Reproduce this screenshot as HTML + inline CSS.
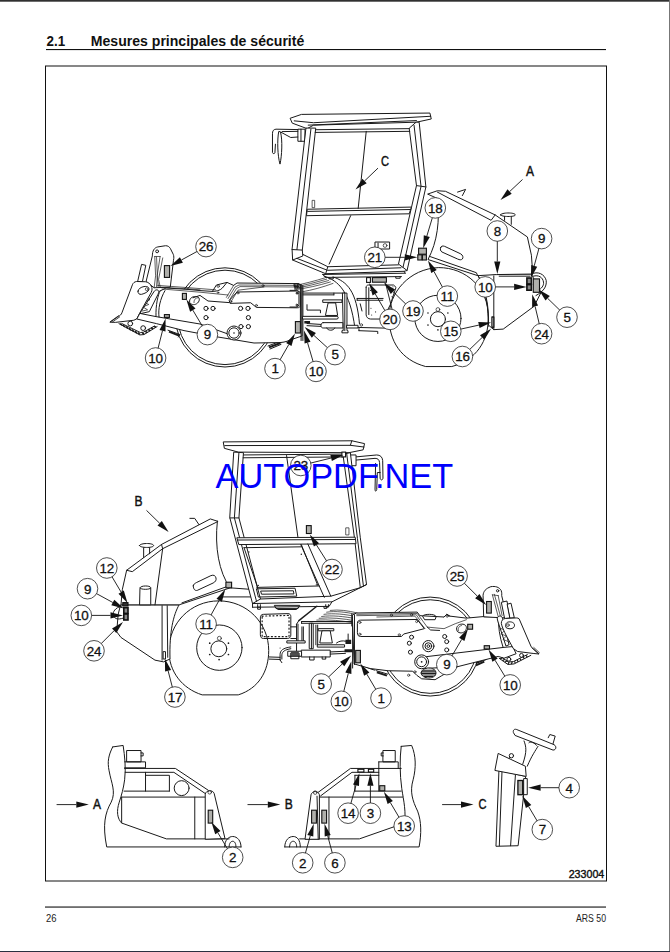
<!DOCTYPE html>
<html lang="fr"><head><meta charset="utf-8"><title>2.1 Mesures principales de sécurité</title>
<style>
html,body{margin:0;padding:0;background:#fff;}
body{width:670px;height:952px;overflow:hidden;position:relative;font-family:"Liberation Sans",sans-serif;}
svg{position:absolute;left:0;top:0;display:block}
#drawing *{vector-effect:non-scaling-stroke}
.d{fill:none;stroke:#1a1a1a;stroke-width:1;stroke-linejoin:round;stroke-linecap:round}
.h{fill:none;stroke:#1a1a1a;stroke-width:1.6;stroke-linecap:butt}
.w{fill:#fff;stroke:#1a1a1a;stroke-width:1;stroke-linejoin:round;stroke-linecap:round}
.t{fill:none;stroke:#1a1a1a;stroke-width:0.7;stroke-linejoin:round;stroke-linecap:round}
.k{fill:#1a1a1a;stroke:none}
.co{fill:#fff;stroke:#222;stroke-width:0.8}
.cn{font-family:"Liberation Sans",sans-serif;font-size:13.4px;text-anchor:middle;fill:#111;stroke:#111;stroke-width:0.3;letter-spacing:-0.2px}
.al{stroke:#111;stroke-width:0.9;fill:none}
.ah{fill:#111;stroke:none}
.st{fill:#b0b0ac;stroke:#111;stroke-width:1.1}
.lb{font-family:"Liberation Sans",sans-serif;font-size:14.5px;font-weight:normal;fill:#111;stroke:#111;stroke-width:0.45;text-anchor:middle}
.wm{font-family:"Liberation Sans",sans-serif;font-size:34.3px;fill:#0000fc}
</style></head><body>
<svg width="670" height="952" viewBox="0 0 670 952">
<rect x="0" y="0" width="670" height="952" fill="#fff"/>
<rect x="0" y="0" width="670" height="1.7" fill="#303030"/>
<rect x="669" y="0" width="1" height="952" fill="#777"/>
<rect x="0" y="951" width="670" height="1" fill="#2a2f40"/>
<text x="46.5" y="46.3" font-family="Liberation Sans, sans-serif" font-weight="bold" font-size="14.8" fill="#111" textLength="18.6" lengthAdjust="spacingAndGlyphs">2.1</text>
<text x="90.8" y="46.3" font-family="Liberation Sans, sans-serif" font-weight="bold" font-size="14.8" fill="#111" textLength="213.5" lengthAdjust="spacingAndGlyphs">Mesures principales de sécurité</text>
<rect x="46" y="49" width="560" height="1.1" fill="#111"/>
<rect x="45.5" y="66" width="561" height="815" fill="none" stroke="#111" stroke-width="1"/>
<rect x="45" y="906.5" width="561" height="1.1" fill="#111"/>
<text x="46" y="921.5" font-family="Liberation Sans, sans-serif" font-size="10.5" fill="#222" textLength="10.5" lengthAdjust="spacingAndGlyphs">26</text>
<text x="606" y="921.5" font-family="Liberation Sans, sans-serif" font-size="10.5" fill="#222" text-anchor="end" textLength="30" lengthAdjust="spacingAndGlyphs">ARS 50</text>
<text x="604.3" y="878" font-family="Liberation Sans, sans-serif" font-size="11" fill="#111" stroke="#111" stroke-width="0.4" text-anchor="end" textLength="35.6" lengthAdjust="spacingAndGlyphs">233004</text>
<g id="drawing">
<!-- 05_top_drum.svg -->
<g transform="translate(170,255) scale(0.2)">
<circle class="w" cx="275" cy="312" r="248"/>
<circle class="d" cx="275" cy="312" r="236"/>
</g>

<!-- 10_top_blade.svg -->
<g transform="translate(104,240) scale(0.1194)">
<!-- upper hook arm -->
<path class="w" d="M405,130 C405,90 420,65 450,58 L515,48 C535,48 545,55 555,70 L580,120 C586,135 586,150 582,170 L555,395 L420,400 L355,350 Z"/>
<circle class="d" cx="445" cy="95" r="12"/>
<path class="t" d="M425,138 L470,138 M425,138 L432,300 L420,400 M440,142 L447,300 L440,390 M470,138 L445,300 L455,385 M492,150 L457,330 L470,390"/>
<!-- cylinder rod -->
<path class="w" d="M318,205 L350,212 L322,348 L285,348 Z"/>
<!-- link arm -->
<path class="w" d="M420,430 C430,412 458,412 460,436 L452,455 L380,600 L300,618 L310,600 Z"/>
<path class="t" d="M345,480 L385,500 L335,520 L375,540 L325,560 L365,585 L320,595"/>
<!-- blade plate -->
<path class="w" d="M270,348 C255,350 245,358 238,375 L150,610 C145,625 135,632 120,640 L50,688 L95,690 L250,672 L275,660 L300,610 L395,440 C405,420 405,400 395,385 C385,365 370,352 350,350 Z"/>
<path class="d" d="M285,428 C290,405 310,395 335,390 C365,385 380,398 376,415 C372,435 340,448 315,455 C295,458 282,448 285,428 Z"/>
<circle class="t" cx="358" cy="412" r="12"/>
<!-- tip hatch -->
<path class="h" style="stroke-width:0.8" d="M48,688 L125,632 M66,690 L134,642"/>
<!-- cutting edge -->
<path class="d" d="M125,700 L300,795 L335,792 L445,725 M150,700 L305,775 L330,772 L420,722"/>
<path class="h" d="M135,700 L150,712 M160,712 L175,728 M185,725 L200,742 M210,738 L225,755 M235,750 L250,768 M260,762 L275,780 M285,775 L300,792 M320,775 L335,790 M345,765 L362,775 M370,750 L388,760 M395,735 L412,745 M418,722 L435,730"/>
<circle class="w" cx="220" cy="700" r="20"/>
<circle class="w" cx="328" cy="738" r="20"/>
</g>

<!-- 12_top_frame.svg -->
<g transform="translate(170,255) scale(0.2)">
<!-- scraper hatches -->
<path class="h" style="stroke-width:2" d="M-5,383 L45,403 M495,462 L552,440"/>
<path class="d" d="M-10,376 L50,398 L42,410 M490,455 L550,432 M500,470 L555,447"/>
<!-- frame side plate -->
<path class="w" d="M-50,180 L-20,165 L90,172 L150,178 L212,182 L232,150 L285,137 L318,152 L335,140 L640,143 L660,150 L660,405 L600,425 C580,435 560,438 540,438 L420,440 L240,410 L70,378 L-68,343 L-166,320 L-151,292 L-70,308 C-72,250 -60,200 -50,180 Z"/>
<path class="d" d="M-70,308 L150,345 L290,395 M-25,178 C-50,220 -60,270 -55,310"/>
<!-- hose bundle along top -->
<path class="t" d="M-62,152 L100,164 L228,174 M-62,160 L100,170 L150,174 M-40,170 L150,186 L290,200"/>
<path class="t" d="M290,218 L325,160 L345,150 L640,152 M298,225 L332,168 L350,158 L640,160 M282,212 L318,152 M306,232 L340,176 L470,160"/>
<!-- cover panel -->
<path class="d" d="M300,240 L296,228 L335,185 L636,180 C648,180 652,186 652,196 L652,250 C652,260 646,264 636,264 L432,262 L405,240 Z"/>
<circle class="t" cx="340" cy="190" r="5"/><circle class="t" cx="636" cy="191" r="5"/><circle class="t" cx="636" cy="253" r="5"/><circle class="t" cx="432" cy="252" r="5"/><circle class="t" cx="304" cy="233" r="5"/><circle class="t" cx="465" cy="153" r="5"/>
<!-- left bracket -->
<path class="d" d="M115,214 L150,202 L190,230 L296,238 M212,182 C230,182 250,178 262,165 L285,137"/>
<circle class="t" cx="241" cy="156" r="6"/><circle class="t" cx="240" cy="188" r="4"/>
<!-- slot hole -->
<path class="d" d="M98,228 C100,212 118,205 135,208 C150,212 150,228 138,240 C125,252 108,250 100,240 Z"/>
<path class="t" d="M120,238 C118,225 128,212 142,214"/>
<!-- holes -->
<circle class="d" cx="180" cy="267" r="10.5"/><circle class="d" cx="215" cy="267" r="10.5"/><circle class="d" cx="353" cy="267" r="10.5"/><circle class="d" cx="390" cy="267" r="10.5"/>
<circle class="d" cx="180" cy="313" r="10.5"/><circle class="d" cx="392" cy="313" r="10.5"/><circle class="d" cx="355" cy="358" r="10.5"/><circle class="d" cx="392" cy="358" r="10.5"/>
<!-- hub -->
<circle class="w" cx="320" cy="390" r="35"/><circle class="d" cx="320" cy="390" r="26"/><circle class="k" cx="320" cy="390" r="4"/>
<!-- right end -->
<path class="d" d="M652,150 L652,330 M625,148 L625,165 L650,165 M637,148 L637,165"/>
</g>

<!-- 14_top_joint.svg -->
<g transform="translate(290,268) scale(0.17910)">
<!-- hoses -->
<path class="t" d="M25,98 C80,88 140,72 195,55 M25,106 C85,96 145,80 205,62 M25,114 C90,104 150,88 215,70 M25,122 C95,112 160,98 225,78 M72,132 C120,124 180,108 240,86"/>
<path class="d" d="M25,88 L50,88 L50,104 L25,104 Z"/>
<!-- big curved bracket -->
<path class="d" d="M190,45 C270,70 335,130 362,332 M240,50 C320,75 372,130 388,312"/>
<!-- left plate + panel -->
<path class="d" d="M62,100 L62,405 M72,100 L72,405 M0,125 L38,125 C46,127 50,133 50,141 L50,203 C50,212 44,218 36,218 L0,218"/>
<circle class="t" cx="38" cy="140" r="4"/><circle class="t" cx="38" cy="205" r="4"/>
<!-- bars -->
<path class="d" d="M72,140 L300,140 M72,150 L245,150 M245,140 L245,150"/>
<path class="w" d="M185,178 L290,178 L290,192 L185,192 Z"/>
<path class="w" d="M215,195 L255,195 L266,265 L200,265 Z"/>
<path class="w" d="M72,270 L262,270 C272,270 272,285 262,285 L72,285 Z"/>
<path class="d" d="M95,205 L95,235 L170,235 L170,250"/>
<!-- post -->
<path class="w" d="M295,140 L318,140 L318,350 L324,350 L324,362 L290,362 L290,350 L295,350 Z"/>
<path class="d" d="M306,140 L306,350"/>
<!-- cylinder -->
<path class="w" d="M185,305 L295,305 L295,335 L185,335 C168,335 168,305 185,305 Z"/>
<path class="d" d="M95,310 L172,315 M95,322 L172,326 M205,335 C210,352 245,352 250,335"/>
<path class="w" d="M318,320 L380,320 L380,335 L318,335 Z"/>
<circle class="t" cx="398" cy="318" r="7"/>
<path class="d" d="M380,332 L545,336 M385,350 L490,354 L490,366 M385,335 L385,350"/>
<!-- engine box -->
<path class="d" d="M425,108 C425,100 430,95 438,95 L578,95 L592,108 L560,205 L512,300 M425,108 L425,262 C427,276 436,284 450,285 L500,285 M440,110 L440,260 M375,170 L520,170 M375,180 L518,180 M375,170 L375,180 M392,200 L402,240"/>
<circle class="k" cx="450" cy="125" r="3"/><circle class="k" cx="452" cy="225" r="3"/><circle class="k" cx="456" cy="262" r="3"/><circle class="k" cx="478" cy="245" r="3"/><circle class="k" cx="570" cy="160" r="3"/><circle class="k" cx="575" cy="105" r="3"/>
<!-- small dark sticker at joint -->
<path class="k" d="M80,296 L112,296 L112,310 L80,310 Z"/>
</g>

<!-- 16_top_cab.svg -->
<g transform="translate(262,105) scale(0.26866)">
<!-- mirror -->
<path class="d" d="M135,91.5 L52,90 C42,91 39,97 39,107 L39,177 C40,182 47,182 48,178 L50,146 M135,98 L75,99 M72,102 L107,121 L135,119"/>
<path class="w" d="M62,100 C56,130 58,190 67,220 C74,190 77,130 69,101 Z"/>
<path class="w" d="M135,90 L160,90 L160,135 L135,135 Z"/>
<path class="d" d="M145,90 L145,135"/>
<!-- roof -->
<path class="w" d="M106,49 L147,35 L625,30 L630,52 L575,64 L192,75 L168,88 L114,68 Z"/>
<path class="d" d="M120,59 L192,66 L628,42 M172,75 L575,58"/>
<!-- left pillar -->
<path class="w" d="M165,86 L200,86 L150,540 L152,562 L114,577 L112,538 Z"/>
<path class="d" d="M182,90 L130,538 M112,538 L150,540"/>
<!-- right pillar -->
<path class="w" d="M548,88 L575,300 L508,592 L540,616 L610,305 L585,64 L575,64 Z"/>
<path class="d" d="M566,76 L592,303 L525,604 M575,300 L610,305"/>
<!-- window top -->
<path class="d" d="M200,92 L548,88 M198,102 L550,98"/>
<!-- divider -->
<path class="w" d="M170,388 L556,380 L548,405 L167,412 Z"/>
<path class="d" d="M170,396 L553,389"/>
<path class="d" d="M388,98 L358,385"/>
<path class="t" d="M188,355 L196,355 L196,382 L188,382 Z"/>
<!-- lower -->
<path class="d" d="M152,556 L245,602 L508,595 M114,577 L237,628 L529,619 L540,616 M330,412 L250,592 M245,602 L237,628"/>
<path class="d" d="M422,510 L475,510 L475,536 L422,536 Z M432,514 L432,532"/>
<circle class="t" cx="458" cy="523" r="7"/>
</g>

<!-- 17_top_cabfloor.svg -->
<g transform="translate(284,240) scale(0.20896)">
<path class="d" d="M62,88 L208,145 L560,133 M185,165 L580,159 M200,179 L562,175 M185,165 L200,179 M580,159 L575,150 M215,179 L215,186 L236,186 L236,179 M535,176 L535,183 L556,183 L556,176"/>
</g>

<!-- 18_top_rear.svg -->
<g transform="translate(385,180) scale(0.26866)">
<!-- tire -->
<path class="w" d="M150,694 C60,670 15,600 15,510 C15,420 90,330 200,326 C300,326 385,400 385,510 C385,600 340,670 250,694 Z"/>
<circle class="d" cx="197" cy="515" r="86"/>
<circle class="d" cx="197" cy="518" r="28"/>
<circle class="t" cx="197" cy="482" r="7"/>
<circle class="k" cx="160" cy="495" r="3"/><circle class="k" cx="234" cy="495" r="3"/><circle class="k" cx="160" cy="540" r="3"/><circle class="k" cx="234" cy="540" r="3"/><circle class="k" cx="197" cy="558" r="3"/>
<!-- rear block -->
<path class="w" d="M340,345 L415,352 L545,350 L580,420 L555,470 L440,555 L405,557 L385,540 C388,470 375,400 340,345 Z"/>
<path class="d" d="M405,357 L405,557 M425,358 L540,358 M345,352 C378,420 386,480 384,545"/>
<!-- tail light ring -->
<path class="d" d="M545,350 C568,338 594,350 600,374 C603,398 588,416 562,430 M552,358 C572,352 587,362 590,380 C592,394 582,404 572,410"/>
<!-- hood -->
<path class="w" d="M160,52 L195,40 L225,42 L410,130 L530,212 L545,280 L550,350 L415,352 L345,356 L160,296 C195,230 205,150 195,70 Z"/>
<path class="d" d="M195,45 L395,150 L410,130 M165,284 L340,345 L345,356"/>
<path class="d" d="M207,252 C208,246 214,244 222,247 L282,275 C290,280 292,288 288,294 C284,298 278,298 270,294 L212,268 C206,264 205,258 207,252 Z"/>
<path class="d" d="M270,45 L300,35 L288,58"/>
<path class="w" d="M430,130 C430,120 485,120 485,130 C485,138 430,138 430,130 Z"/>
<path class="d" d="M445,136 L445,150 M470,136 L470,165"/>
<path class="w" style="stroke-width:1.3" d="M398,510 L405,510 L405,548 L398,548 Z"/>
</g>

<!-- 28_bot_drum.svg -->
<g transform="translate(350,570) scale(0.22388)">
<circle class="w" cx="358" cy="342" r="221"/>
<circle class="d" cx="358" cy="342" r="209"/>
</g>

<!-- 30_bot_rear.svg -->
<g transform="translate(60,490) scale(0.28358)">
<!-- tire -->
<path class="w" d="M500,722 C430,700 384,640 384,566 C384,470 460,391 560,391 C660,391 736,470 736,566 C736,640 700,700 630,722 Z"/>
<circle class="d" cx="562" cy="556" r="80"/>
<circle class="d" cx="560" cy="560" r="28"/>
<circle class="t" cx="562" cy="523" r="7"/>
<circle class="k" cx="528" cy="540" r="3"/><circle class="k" cx="594" cy="540" r="3"/><circle class="k" cx="528" cy="580" r="3"/><circle class="k" cx="594" cy="580" r="3"/><circle class="k" cx="561" cy="598" r="3"/>
<!-- rear block -->
<path class="w" d="M215,405 L420,405 C400,440 385,500 388,596 L365,606 L335,600 L215,520 L200,500 L205,440 Z"/>
<path class="d" d="M360,408 L360,600 M378,408 L380,590 M215,410 C195,415 185,430 188,442 C192,455 205,458 222,452"/>
<!-- canister + cap -->
<!-- hood -->
<path class="w" d="M555,110 L530,102 L358,192 L235,283 L220,350 L215,405 L420,405 L600,345 C560,290 545,200 555,110 Z"/>
<path class="d" d="M555,112 L362,207 L255,288 L235,283 M362,207 L358,192 M362,207 L335,405 M430,398 L590,340"/>
<path class="d" d="M470,338 C470,332 475,330 482,326 L532,302 C542,298 548,302 550,310 C552,318 548,324 540,328 L484,354 C476,356 470,350 470,338 Z"/>
<path class="d" d="M458,100 L475,100 L490,122"/>
<path class="d" d="M600,345 L668,350 M572,377 L672,377"/>
<path class="w" d="M280,196 C280,186 330,186 330,196 C330,205 280,205 280,196 Z"/>
<path class="d" d="M295,204 L295,238 M316,204 L316,225"/>
<path class="w" d="M282,345 C282,336 320,336 320,345 L320,405 L282,405 Z"/>
<path class="d" d="M282,346 C285,352 317,352 320,346"/>
<path class="w" d="M365,570 L372,570 L372,596 L365,596 Z"/>
</g>

<!-- 32_bot_cab.svg -->
<g transform="translate(210,430) scale(0.28358)">
<!-- mirror -->
<path class="d" d="M512,95 L588,88 C600,88 608,95 609,108 L610,170 C608,178 602,178 600,170 L598,115 C597,105 592,100 582,100 L515,106 M600,150 L590,150 L588,210 C586,218 582,218 582,208 L584,118"/>
<path class="w" d="M495,88 L515,88 L515,126 L495,126 Z"/>
<!-- roof -->
<path class="w" d="M48,42 L500,38 L545,48 L540,70 L490,80 L100,78 L52,65 Z"/>
<path class="d" d="M52,55 L495,54 L543,60 M500,38 L495,54"/>
<!-- left pillar -->
<path class="w" d="M85,78 L118,80 L102,310 L178,596 L150,612 L70,310 Z"/>
<path class="d" d="M102,80 L86,310 L164,604 M70,310 L102,310"/>
<!-- right pillar -->
<path class="w" d="M470,85 L495,80 L530,380 L552,545 L530,556 L510,385 Z"/>
<path class="d" d="M482,83 L520,383 L541,550"/>
<path class="d" d="M118,88 L470,85 M117,98 L471,95"/>
<!-- divider -->
<path class="w" d="M96,380 L512,378 L515,401 L103,404 Z"/>
<path class="d" d="M98,388 L513,386"/>
<path class="d" d="M270,90 L310,378"/>
<path class="t" d="M480,345 L490,345 L490,370 L480,370 Z"/>
<!-- lower -->
<path class="d" d="M320,404 L403,590 M345,402 L426,586 M120,415 L320,412 M165,555 L385,550 M120,415 L168,555 M322,404 L380,548"/>
<path class="d" d="M150,612 L430,606 L552,545 M178,596 L426,586 L530,556 M150,625 L420,622 L430,606 M150,612 L150,625"/>
<path class="d" d="M165,560 L300,558 L306,586 L172,589 Z M180,568 L294,567 L296,578 L183,579 Z"/>
<circle class="k" cx="137" cy="430" r="2.5"/><circle class="k" cx="322" cy="438" r="2.5"/><circle class="k" cx="170" cy="548" r="2.5"/><circle class="k" cx="375" cy="546" r="2.5"/>
<path class="d" d="M230,625 L240,633 L305,633 L312,625 M168,625 L168,632 L178,632 L178,625 M402,622 L402,629 L412,629 L412,622"/>
</g>

<!-- 34_bot_joint.svg -->
<g transform="translate(255,600) scale(0.17910)">
<!-- tray and feet under cab slab -->
<path class="d" d="M110,30 L250,30 L240,48 L120,48 Z M15,26 L15,40 L30,40 L30,26 M395,26 L395,40 L410,40 L410,26"/>
<!-- engine side hatch -->
<path class="d" d="M30,98 C30,86 36,80 48,80 L184,76 C194,76 200,82 200,92 L200,196 C200,208 192,215 180,215 L48,215 C36,215 30,208 30,196 Z"/>
<path class="t" style="stroke-dasharray:1 2.6;stroke-width:1.2" d="M40,90 L190,86 L190,205 L40,205 Z"/>
<path class="d" d="M200,150 L232,150 M232,135 L232,285 M240,135 L240,228 M245,115 L232,135 M200,215 L232,215"/>
<!-- diagonal strut -->
<path class="d" style="stroke-width:1.4" d="M245,115 L345,35"/>
<!-- hoses -->
<path class="t" d="M400,68 C450,60 510,68 565,80 M385,80 C440,72 505,80 562,92 M372,92 C430,84 500,92 560,104 M358,102 C420,96 495,104 558,116 M345,112 C410,108 490,116 555,128 M420,58 C470,52 520,60 570,72"/>
<!-- top beam -->
<path class="d" d="M260,120 L545,120 M260,130 L545,130 M260,120 L260,130"/>
<!-- posts -->
<path class="w" d="M305,130 L325,130 L325,272 L305,272 Z"/>
<path class="d" d="M315,130 L315,272 M340,140 L340,250 M350,140 L350,250 M262,150 L262,228 M270,150 L270,228"/>
<!-- bars -->
<path class="w" d="M180,228 L280,228 L280,240 L180,240 Z"/>
<path class="w" d="M350,250 L500,250 L500,263 L350,263 Z"/>
<!-- trapezoid mount -->
<path class="w" d="M355,160 L440,160 L440,172 L355,172 Z"/>
<path class="w" d="M376,172 L420,172 L432,240 L364,240 Z"/>
<!-- cylinder -->
<path class="w" d="M260,280 L420,280 L420,318 L260,318 Z"/>
<path class="w" d="M185,286 L260,286 L260,314 L185,314 Z"/>
<path class="h" style="stroke-width:1" d="M195,300 L250,300 M195,306 L250,306 M195,312 L250,312 M200,292 L245,292"/>
<path class="d" d="M420,290 L505,286 M420,302 L505,298 M305,318 L305,335 L330,335 L330,318 M375,318 L375,330 L395,330 L395,318 M200,314 L200,328 L245,328 L245,314"/>
<!-- elbow pipe -->
<path class="d" d="M140,335 L140,305 C140,282 155,268 200,262 M150,330 L150,306 C152,288 165,278 200,272 M80,330 L140,332 M80,318 L140,320 M140,335 L150,350"/>
<circle class="k" cx="140" cy="268" r="3"/>
<!-- pivot stack -->
<path class="k" d="M505,222 L537,222 L537,246 L505,246 Z M500,275 L545,275 L545,292 L500,292 Z"/>
<path class="d" d="M520,190 L520,222 M455,240 C470,228 490,226 505,230"/>
<!-- frame plate -->
<path class="d" d="M545,100 L545,380 M556,100 L556,360 M545,100 L575,86 L670,78 M570,130 C570,120 576,116 586,116 L670,108 M570,130 L570,186 C570,196 576,200 586,200 L670,196 M556,340 C580,352 620,380 670,392"/>
<circle class="t" cx="580" cy="128" r="4"/><circle class="t" cx="580" cy="188" r="4"/>
</g>

<!-- 36_bot_frame.svg -->
<g transform="translate(350,570) scale(0.22388)">
<path class="h" style="stroke-width:2" d="M120,457 L165,472 M562,416 L612,396"/>
<path class="d" d="M118,450 L168,465 M560,408 L610,388"/>
<!-- frame plate -->
<path class="w" d="M12,200 L30,192 L300,188 L312,204 L420,210 L432,198 L446,206 L520,215 L640,204 L662,202 C662,250 668,300 684,346 L727,342 L742,374 L688,394 L662,386 L480,432 L410,472 L380,490 L320,486 L298,470 L280,452 L170,450 L90,440 L20,420 Z"/>
<path class="d" d="M300,392 L684,346 M330,440 L480,432"/>
<!-- hoses top -->
<path class="t" d="M30,198 L300,194 L318,218 M30,204 L296,200 L312,224 M120,210 L290,206 L335,262 M318,218 L345,255 L420,262 L470,240 L520,222"/>
<!-- panel -->
<path class="d" d="M33,238 C33,228 38,224 48,224 L300,221 L332,262 L240,286 L230,297 L48,297 C38,297 33,292 33,282 Z"/>
<circle class="t" cx="44" cy="234" r="5"/><circle class="t" cx="44" cy="287" r="5"/><circle class="t" cx="220" cy="290" r="5"/><circle class="t" cx="298" cy="230" r="5"/><circle class="t" cx="185" cy="202" r="5"/><circle class="t" cx="275" cy="200" r="5"/>
<!-- bracket near center top -->
<path class="d" d="M325,205 C330,195 380,195 385,208 L380,222 L335,222 Z M345,255 L360,268 L400,270 M420,210 L432,198 L446,206"/>
<circle class="t" cx="434" cy="206" r="5"/>
<!-- slot hole -->
<path class="d" d="M476,262 C476,248 490,240 505,242 C520,245 524,258 516,270 C506,284 488,284 480,275 Z"/>
<path class="t" d="M485,272 C480,262 486,250 498,248"/>
<!-- holes -->
<circle class="d" cx="275" cy="300" r="9"/><circle class="d" cx="265" cy="327" r="9"/><circle class="d" cx="270" cy="367" r="9"/><circle class="d" cx="423" cy="297" r="9"/><circle class="d" cx="432" cy="320" r="9"/><circle class="d" cx="432" cy="357" r="9"/>
<!-- center motor -->
<circle class="d" cx="350" cy="340" r="25"/><circle class="d" cx="350" cy="340" r="15"/><circle class="d" cx="350" cy="340" r="6"/>
<!-- hub -->
<circle class="w" cx="320" cy="410" r="31"/><circle class="d" cx="320" cy="410" r="22"/><circle class="k" cx="320" cy="410" r="4"/>
<!-- vib motor -->
<path class="w" d="M318,460 C318,445 335,438 352,438 C370,438 384,446 384,460 C384,474 370,482 352,482 C335,482 318,475 318,460 Z"/>
<path class="h" style="stroke-width:1.1" d="M324,448 L378,448 M320,455 L383,455 M319,462 L384,462 M322,469 L381,469 M330,476 L372,476"/>
<circle class="t" cx="262" cy="470" r="5"/><circle class="t" cx="290" cy="455" r="5"/>
<!-- left end -->
<path class="d" d="M20,200 L20,420 M8,196 L8,250"/>
</g>

<!-- 38_bot_blade.svg -->
<g transform="translate(440,570) scale(0.19403)">
<!-- hook arm -->
<path class="w" d="M225,240 L222,130 C224,110 235,96 262,86 C285,82 305,88 315,105 C320,118 318,130 318,132 L345,245 Z"/>
<circle class="d" cx="297" cy="107" r="6"/>
<path class="t" d="M270,128 L300,240 M280,125 L312,240 M300,132 L320,235 M270,128 L300,132"/>
<!-- cylinders -->
<path class="w" d="M318,166 L345,160 L362,248 L335,250 Z"/>
<path class="w" d="M348,176 L366,171 L383,246 L362,248 Z"/>
<!-- link arm -->
<path class="w" d="M295,250 C295,235 318,232 322,248 L356,385 L340,392 L300,270 Z"/>
<path class="t" d="M310,300 L335,310 L315,330 L342,340 L325,358 L350,368"/>
<!-- blade plate -->
<path class="w" d="M335,250 C322,252 316,262 316,275 C318,290 330,315 345,345 L378,405 L400,420 L480,430 L510,433 L470,396 L408,252 C405,248 400,247 395,247 Z"/>
<path class="d" d="M338,285 C338,270 352,265 368,268 C384,272 388,285 380,296 C370,306 352,305 342,298 Z"/>
<circle class="t" cx="350" cy="284" r="7"/>
<path class="h" style="stroke-width:0.8" d="M472,400 L508,432 M482,398 L514,428"/>
<!-- cutting edge -->
<path class="d" d="M305,455 L350,487 L382,484 L468,440 M322,452 L352,474 L378,472 L450,436"/>
<path class="h" style="stroke-width:1.2" d="M310,458 L322,452 M322,467 L334,460 M334,476 L346,468 M350,486 L356,474 M368,485 L372,473 M388,480 L384,470 M402,473 L398,463 M418,465 L412,456 M434,457 L428,447 M450,449 L444,440"/>
<circle class="w" cx="355" cy="460" r="10"/><circle class="w" cx="420" cy="440" r="10"/>
<path class="h" style="stroke-width:2" d="M185,492 L228,472"/>
</g>

<!-- 50_viewA.svg -->
<g transform="translate(50,735) scale(0.29851)">
<path class="d" d="M210,40 C195,70 192,90 198,120 C205,160 222,190 205,225 C185,260 175,300 190,375 L640,375"/>
<path class="d" d="M210,40 L245,35 C250,70 255,110 250,150 C246,180 240,200 232,225 C222,255 225,280 240,295"/>
<path class="d" d="M258,52 L305,52 L305,90 L258,90 Z M305,60 L312,60 L312,70 L305,70 M250,90 L320,90 L320,110 L250,110"/>
<path class="d" d="M250,112 L420,112 L530,185 M252,125 L415,125 L520,196 M320,125 L320,188 M320,135 L400,135 L400,188 M248,188 L400,188"/>
<circle class="d" cx="441" cy="178" r="25"/>
<path class="d" d="M240,208 L520,208 M240,208 L240,295 L390,348 L600,348 M485,208 L485,348"/>
<path class="w" d="M520,348 L520,198 C522,185 545,182 550,196 L586,346 Z"/>
<circle class="t" cx="535" cy="192" r="6"/>
<path class="d" d="M585,375 C585,350 600,340 612,340 C628,340 640,355 640,375 M600,375 C600,362 606,356 612,356 C618,356 623,362 623,375"/>
</g>

<!-- 52_viewB.svg -->
<g transform="translate(240,735) scale(0.29851)">
<path class="d" d="M150,375 L600,375 C608,330 608,290 595,255 C578,220 568,190 580,150 C590,110 590,70 575,35 L540,38"/>
<path class="d" d="M540,38 C535,80 535,130 542,180 C548,220 558,260 550,300"/>
<path class="d" d="M150,375 C150,352 164,340 178,340 C192,340 202,352 202,375 M166,375 C166,362 172,356 178,356 C184,356 190,362 190,375"/>
<path class="d" d="M262,192 L370,112 L540,112 M270,204 L375,125 L465,125 M465,112 L465,188 M385,135 L465,135 M385,135 L385,188 M385,188 L540,188 M465,90 L530,90 L530,112 M465,90 L465,112 M480,52 L520,52 L520,90 L480,90 Z M480,60 L473,60 L473,70 L480,70"/>
<path class="d" d="M265,208 L545,208 M298,208 L298,348 M200,348 L400,348 L520,306 L550,300"/>
<path class="w" d="M218,348 L238,200 C242,186 262,186 266,200 L266,348 Z"/>
<path class="d" d="M258,205 L262,348"/>
<circle class="t" cx="252" cy="193" r="6"/>
</g>

<!-- 54_viewC.svg -->
<g transform="translate(430,720) scale(0.26866)">
<!-- steering wheel -->
<path class="d" d="M350,78 C358,100 362,115 345,165 M402,98 C392,115 380,130 362,172"/>
<path class="w" d="M310,45 C308,36 316,32 324,36 L462,92 C472,98 470,112 458,112 L318,58 Z"/>
<path class="d" d="M440,66 L446,54 L466,60 L458,88 M368,84 C372,78 392,86 396,94"/>
<!-- key -->
<circle class="d" cx="303" cy="133" r="8"/><path class="d" d="M296,140 L292,150"/>
<!-- column -->
<path class="w" d="M258,188 L356,210 L328,468 L247,470 Z"/>
<path class="d" d="M268,192 L258,468 M318,204 L300,468"/>
<path class="w" d="M255,125 L355,172 L358,210 L243,188 Z"/>
<path class="w" d="M350,218 L362,218 L362,278 L350,278 Z"/>
</g>

</g>
<g id="annotations">
<rect x="164.4" y="265.6" width="5.2" height="11.8" class="st"/>
<line x1="206.0" y1="246.6" x2="181.4" y2="260.0" class="al"/><polygon points="170.4,266.0 179.9,257.3 182.9,262.7" class="ah"/>
<circle cx="206" cy="246.6" r="10.3" class="co"/><text x="206" y="251.4" class="cn">26</text>
<rect x="182.4" y="293.4" width="4.0" height="6.0" class="st"/>
<line x1="207.4" y1="334.6" x2="192.8" y2="310.1" class="al"/><polygon points="186.4,299.4 195.5,308.5 190.1,311.7" class="ah"/>
<circle cx="207.4" cy="334.6" r="10.3" class="co"/><text x="207.4" y="339.40000000000003" class="cn">9</text>
<rect x="164.4" y="314.6" width="5.0" height="2.8" class="st"/>
<line x1="155.6" y1="358.0" x2="162.5" y2="330.7" class="al"/><polygon points="165.6,318.6 165.5,331.5 159.5,330.0" class="ah"/>
<circle cx="155.6" cy="358" r="10.3" class="co"/><text x="155.6" y="362.8" class="cn">10</text>
<rect x="295.4" y="321.6" width="5.0" height="11.4" class="st"/>
<line x1="275.0" y1="368.6" x2="288.8" y2="344.5" class="al"/><polygon points="295.0,333.6 291.5,346.0 286.1,342.9" class="ah"/>
<circle cx="275" cy="368.6" r="10.3" class="co"/><text x="275" y="373.40000000000003" class="cn">1</text>
<line x1="335.0" y1="354.6" x2="313.9" y2="335.4" class="al"/><polygon points="304.6,327.0 315.9,333.1 311.8,337.7" class="ah"/>
<circle cx="335" cy="354.6" r="10.3" class="co"/><text x="335" y="359.40000000000003" class="cn">5</text>
<line x1="316.0" y1="371.4" x2="307.5" y2="342.6" class="al"/><polygon points="304.0,330.6 310.5,341.7 304.6,343.5" class="ah"/>
<circle cx="316" cy="371.4" r="10.3" class="co"/><text x="316" y="376.2" class="cn">10</text>
<rect x="372.4" y="277.6" width="14.0" height="4.6" class="st"/>
<rect x="366.6" y="277.6" width="3.8" height="4.8" class="st" style="fill:#fff"/>
<line x1="413.0" y1="311.0" x2="393.0" y2="291.7" class="al"/><polygon points="384.0,283.0 395.1,289.5 390.8,293.9" class="ah"/>
<line x1="390.0" y1="319.4" x2="375.2" y2="293.8" class="al"/><polygon points="369.0,283.0 377.9,292.3 372.6,295.4" class="ah"/>
<line x1="392" y1="309" x2="385.5" y2="283" class="al"/>
<circle cx="413" cy="311" r="10.3" class="co"/><text x="413" y="315.8" class="cn">19</text>
<circle cx="390" cy="319.4" r="10.3" class="co"/><text x="390" y="324.2" class="cn">20</text>
<text x="385" y="165.8" class="lb" textLength="8" lengthAdjust="spacingAndGlyphs">C</text>
<line x1="378.0" y1="168.1" x2="364.5" y2="181.0" class="al"/><polygon points="355.5,189.6 362.4,178.7 366.7,183.2" class="ah"/>
<rect x="418.6" y="248.2" width="7.8" height="6.0" class="st"/>
<rect x="417.8" y="254.8" width="4.2" height="5.2" class="st"/>
<rect x="422.4" y="254.8" width="4.0" height="5.2" class="st"/>
<line x1="374.8" y1="257.3" x2="404.8" y2="257.3" class="al"/><polygon points="417.3,257.3 404.8,260.4 404.8,254.2" class="ah"/>
<circle cx="374.8" cy="257.3" r="10.3" class="co"/><text x="374.8" y="262.1" class="cn">21</text>
<line x1="435.3" y1="207.9" x2="426.8" y2="236.2" class="al"/><polygon points="423.2,248.2 423.8,235.3 429.8,237.1" class="ah"/>
<circle cx="435.3" cy="207.9" r="10.3" class="co"/><text x="435.3" y="212.70000000000002" class="cn">18</text>
<text x="530" y="175.5" class="lb" textLength="8" lengthAdjust="spacingAndGlyphs">A</text>
<line x1="522.5" y1="179.5" x2="509.6" y2="191.6" class="al"/><polygon points="500.5,200.1 507.5,189.3 511.7,193.8" class="ah"/>
<rect x="533.3" y="278.9" width="6.2" height="13.4" class="st"/>
<rect x="526.9" y="278" width="4.5" height="6" class="st" style="stroke-width:1.6;fill:#888"/>
<rect x="526.9" y="284.6" width="4.5" height="5.6" class="st" style="stroke-width:1.6;fill:#888"/>
<line x1="497.3" y1="231.0" x2="497.3" y2="261.5" class="al"/><polygon points="497.3,274.0 494.2,261.5 500.4,261.5" class="ah"/>
<circle cx="497.3" cy="231" r="10.3" class="co"/><text x="497.3" y="235.8" class="cn">8</text>
<line x1="541.6" y1="238.6" x2="534.2" y2="265.9" class="al"/><polygon points="530.9,278.0 531.2,265.1 537.2,266.7" class="ah"/>
<circle cx="541.6" cy="238.6" r="10.3" class="co"/><text x="541.6" y="243.4" class="cn">9</text>
<line x1="485.2" y1="286.9" x2="514.1" y2="286.9" class="al"/><polygon points="526.6,286.9 514.1,290.0 514.1,283.8" class="ah"/>
<circle cx="485.2" cy="286.9" r="10.3" class="co"/><text x="485.2" y="291.7" class="cn">10</text>
<line x1="447.3" y1="296.1" x2="434.0" y2="271.5" class="al"/><polygon points="428.0,260.5 436.7,270.0 431.2,273.0" class="ah"/>
<circle cx="447.3" cy="296.1" r="10.3" class="co"/><text x="447.3" y="300.90000000000003" class="cn">11</text>
<line x1="450.8" y1="331.3" x2="478.9" y2="325.1" class="al"/><polygon points="491.1,322.4 479.6,328.1 478.2,322.1" class="ah"/>
<circle cx="450.8" cy="331.3" r="10.3" class="co"/><text x="450.8" y="336.1" class="cn">15</text>
<line x1="462.4" y1="356.5" x2="482.1" y2="337.5" class="al"/><polygon points="491.1,328.8 484.3,339.7 480.0,335.3" class="ah"/>
<circle cx="462.4" cy="356.5" r="10.3" class="co"/><text x="462.4" y="361.3" class="cn">16</text>
<line x1="541.6" y1="333.7" x2="535.1" y2="306.4" class="al"/><polygon points="532.2,294.2 538.1,305.6 532.1,307.1" class="ah"/>
<circle cx="541.6" cy="333.7" r="10.3" class="co"/><text x="541.6" y="338.5" class="cn">24</text>
<line x1="567.0" y1="317.2" x2="547.6" y2="298.3" class="al"/><polygon points="538.7,289.6 549.8,296.1 545.5,300.5" class="ah"/>
<circle cx="567" cy="317.2" r="10.3" class="co"/><text x="567" y="322.0" class="cn">5</text>
<text x="138.6" y="506.3" class="lb" textLength="8" lengthAdjust="spacingAndGlyphs">B</text>
<line x1="146.5" y1="510.4" x2="159.7" y2="523.3" class="al"/><polygon points="168.6,532.0 157.5,525.5 161.8,521.0" class="ah"/>
<rect x="123.8" y="607.7" width="4.2" height="5.7" class="st" style="stroke-width:1.6;fill:#888"/>
<rect x="123.8" y="614" width="4.2" height="6" class="st" style="stroke-width:1.6;fill:#888"/>
<rect x="122.8" y="602.6" width="5.2" height="3.4" class="st" style="fill:#333"/>
<rect x="225.9" y="582.2" width="5.7" height="5.6" class="st"/>
<line x1="106.8" y1="568.0" x2="121.1" y2="592.1" class="al"/><polygon points="127.5,602.9 118.5,593.7 123.8,590.6" class="ah"/>
<circle cx="106.8" cy="568" r="10.3" class="co"/><text x="106.8" y="572.8" class="cn">12</text>
<line x1="87.5" y1="588.7" x2="112.8" y2="602.5" class="al"/><polygon points="123.8,608.5 111.3,605.2 114.3,599.8" class="ah"/>
<circle cx="87.5" cy="588.7" r="10.3" class="co"/><text x="87.5" y="593.5" class="cn">9</text>
<line x1="81.3" y1="615.4" x2="110.5" y2="615.4" class="al"/><polygon points="123.0,615.4 110.5,618.5 110.5,612.3" class="ah"/>
<circle cx="81.3" cy="615.4" r="10.3" class="co"/><text x="81.3" y="620.1999999999999" class="cn">10</text>
<line x1="94.0" y1="650.8" x2="114.1" y2="630.7" class="al"/><polygon points="123.0,621.9 116.3,632.9 112.0,628.5" class="ah"/>
<circle cx="94" cy="650.8" r="10.3" class="co"/><text x="94" y="655.5999999999999" class="cn">24</text>
<line x1="206.1" y1="623.9" x2="219.2" y2="600.2" class="al"/><polygon points="225.3,589.3 221.9,601.7 216.5,598.7" class="ah"/>
<circle cx="206.1" cy="623.9" r="10.3" class="co"/><text x="206.1" y="628.6999999999999" class="cn">11</text>
<line x1="174.9" y1="697.0" x2="168.1" y2="670.8" class="al"/><polygon points="164.9,658.7 171.1,670.0 165.1,671.6" class="ah"/>
<circle cx="174.9" cy="697" r="10.3" class="co"/><text x="174.9" y="701.8" class="cn">17</text>
<rect x="306.4" y="525.6" width="4.8" height="7.9" class="st"/>
<line x1="332.0" y1="569.5" x2="316.5" y2="545.0" class="al"/><polygon points="309.8,534.4 319.1,543.3 313.9,546.6" class="ah"/>
<circle cx="332" cy="569.5" r="10.3" class="co"/><text x="332" y="574.3" class="cn">22</text>
<rect x="341.9" y="452.1" width="3.7" height="4.8" class="st" style="fill:#fff"/>
<line x1="300.8" y1="465.5" x2="331.2" y2="458.0" class="al"/><polygon points="343.3,455.0 331.9,461.0 330.4,455.0" class="ah"/>
<circle cx="300.8" cy="465.5" r="10.3" class="co"/><text x="300.8" y="470.3" class="cn">23</text>
<rect x="355.7" y="650.4" width="4.7" height="12.4" class="st"/>
<line x1="321.2" y1="684.0" x2="342.2" y2="664.0" class="al"/><polygon points="351.2,655.4 344.3,666.3 340.0,661.8" class="ah"/>
<circle cx="321.2" cy="684" r="10.3" class="co"/><text x="321.2" y="688.8" class="cn">5</text>
<line x1="341.3" y1="701.3" x2="348.3" y2="673.3" class="al"/><polygon points="351.4,661.2 351.4,674.1 345.3,672.6" class="ah"/>
<circle cx="341.3" cy="701.3" r="10.3" class="co"/><text x="341.3" y="706.0999999999999" class="cn">10</text>
<line x1="381.0" y1="698.1" x2="366.8" y2="674.1" class="al"/><polygon points="360.4,663.4 369.4,672.6 364.1,675.7" class="ah"/>
<circle cx="381" cy="698.1" r="10.3" class="co"/><text x="381" y="702.9" class="cn">1</text>
<rect x="486.6" y="601.5" width="4.7" height="11.6" class="st"/>
<line x1="457.1" y1="576.0" x2="477.3" y2="596.1" class="al"/><polygon points="486.2,604.9 475.1,598.3 479.5,593.9" class="ah"/>
<circle cx="457.1" cy="576" r="10.3" class="co"/><text x="457.1" y="580.8" class="cn">25</text>
<rect x="467.7" y="624.3" width="4.9" height="4.9" class="st"/>
<line x1="446.8" y1="664.6" x2="461.7" y2="639.4" class="al"/><polygon points="468.1,628.6 464.4,640.9 459.1,637.8" class="ah"/>
<circle cx="446.8" cy="664.6" r="10.3" class="co"/><text x="446.8" y="669.4" class="cn">9</text>
<rect x="484.2" y="645.7" width="5.3" height="3.3" class="st"/>
<line x1="510.2" y1="684.9" x2="495.0" y2="660.2" class="al"/><polygon points="488.5,649.5 497.7,658.5 492.4,661.8" class="ah"/>
<circle cx="510.2" cy="684.9" r="10.3" class="co"/><text x="510.2" y="689.6999999999999" class="cn">10</text>
<line x1="56.6" y1="804.6" x2="76.3" y2="804.6" class="al"/><polygon points="88.8,804.6 76.3,807.7 76.3,801.5" class="ah"/>
<text x="96.9" y="809" class="lb" textLength="8" lengthAdjust="spacingAndGlyphs">A</text>
<rect x="208.2" y="810.2" width="4.5" height="12.9" class="st"/>
<line x1="232.7" y1="857.4" x2="217.8" y2="832.7" class="al"/><polygon points="211.4,822.0 220.5,831.1 215.2,834.3" class="ah"/>
<circle cx="232.7" cy="857.4" r="10.3" class="co"/><text x="232.7" y="862.1999999999999" class="cn">2</text>
<line x1="247.5" y1="804.6" x2="267.8" y2="804.6" class="al"/><polygon points="280.3,804.6 267.8,807.7 267.8,801.5" class="ah"/>
<text x="288.7" y="809" class="lb" textLength="8" lengthAdjust="spacingAndGlyphs">B</text>
<rect x="311.6" y="810.2" width="4.8" height="12.9" class="st"/>
<rect x="321.8" y="810.2" width="4.8" height="12.9" class="st"/>
<rect x="357.9" y="769.3" width="6" height="2.7" class="st" style="fill:#fff"/>
<rect x="368.4" y="769.3" width="5.3" height="2.7" class="st" style="fill:#fff"/>
<rect x="379.7" y="785.7" width="5.1" height="5.1" class="st"/>
<line x1="302.7" y1="862.8" x2="310.3" y2="835.7" class="al"/><polygon points="313.7,823.7 313.3,836.6 307.3,834.9" class="ah"/>
<circle cx="302.7" cy="862.8" r="10.3" class="co"/><text x="302.7" y="867.5999999999999" class="cn">2</text>
<line x1="334.9" y1="862.8" x2="327.7" y2="835.8" class="al"/><polygon points="324.5,823.7 330.7,835.0 324.7,836.6" class="ah"/>
<circle cx="334.9" cy="862.8" r="10.3" class="co"/><text x="334.9" y="867.5999999999999" class="cn">6</text>
<line x1="348.1" y1="813.2" x2="356.0" y2="785.2" class="al"/><polygon points="359.4,773.2 359.0,786.1 353.0,784.4" class="ah"/>
<circle cx="348.1" cy="813.2" r="10.3" class="co"/><text x="348.1" y="818.0" class="cn">14</text>
<line x1="370.4" y1="813.2" x2="370.4" y2="785.7" class="al"/><polygon points="370.4,773.2 373.5,785.7 367.3,785.7" class="ah"/>
<circle cx="370.4" cy="813.2" r="10.3" class="co"/><text x="370.4" y="818.0" class="cn">3</text>
<line x1="404.2" y1="826.0" x2="390.3" y2="802.5" class="al"/><polygon points="383.9,791.7 392.9,800.9 387.6,804.0" class="ah"/>
<circle cx="404.2" cy="826" r="10.3" class="co"/><text x="404.2" y="830.8" class="cn">13</text>
<line x1="442.1" y1="804.6" x2="461.0" y2="804.6" class="al"/><polygon points="473.5,804.6 461.0,807.7 461.0,801.5" class="ah"/>
<text x="482.4" y="809" class="lb" textLength="8" lengthAdjust="spacingAndGlyphs">C</text>
<rect x="517.9" y="780.5" width="4.8" height="14.2" class="st" style="stroke-width:1.3"/>
<line x1="569.2" y1="787.7" x2="540.6" y2="787.7" class="al"/><polygon points="528.1,787.7 540.6,784.6 540.6,790.8" class="ah"/>
<circle cx="569.2" cy="787.7" r="10.3" class="co"/><text x="569.2" y="792.5" class="cn">4</text>
<line x1="542.3" y1="829.6" x2="528.6" y2="806.5" class="al"/><polygon points="522.2,795.8 531.3,805.0 525.9,808.1" class="ah"/>
<circle cx="542.3" cy="829.6" r="10.3" class="co"/><text x="542.3" y="834.4" class="cn">7</text>
</g>
<text x="215.6" y="487.6" class="wm">AUTOPDF.NET</text>
</svg>
</body></html>
